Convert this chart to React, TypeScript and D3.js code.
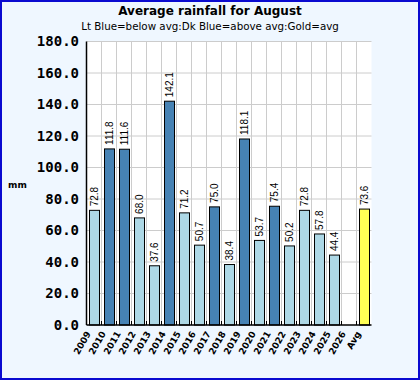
import React from "react";
import * as d3 from "d3";

const categories = ["2009","2010","2011","2012","2013","2014","2015","2016","2017","2018","2019","2020","2021","2022","2023","2024","2025","2026","Avg"];
const rainfall: (number | null)[] = [72.8,111.8,111.6,68.0,37.6,142.1,71.2,50.7,75.0,38.4,118.1,53.7,75.4,50.2,72.8,57.8,44.4,null,73.6];
const avgValue = 73.6;
const yTicks = [0,20,40,60,80,100,120,140,160,180];
const title = "Average rainfall for August";
const subtitle = "Lt Blue=below avg:Dk Blue=above avg:Gold=avg";
const yTitle = "mm";

const W = 420, H = 380;
const left = 86.5, right = 371.5, top = 41.5, bottom = 325;

export default function App() {
  const x = d3.scaleBand<string>().domain(categories).range([left, right]).padding(0);
  const y = d3.scaleLinear().domain([0, 180]).range([bottom, top]);
  const bw = x.bandwidth();
  const fmt = d3.format(".1f");
  const colorOf = (c: string, v: number) =>
    c === "Avg" ? "#ffff55" : v > avgValue ? "#4682b4" : "#add8e6";

  return (
    <svg width={W} height={H} style={{ position: "absolute", left: 0, top: 0 }}>
      <rect x={1} y={1} width={W - 2} height={H - 2} fill="#eff7ff" stroke="#0a0ad0" strokeWidth={2} />
      <text x={210} y={15} textAnchor="middle" fontFamily="DejaVu Sans" fontWeight="bold" fontSize={12}>{title}</text>
      <text x={210} y={30} textAnchor="middle" fontFamily="DejaVu Sans" fontSize={10.3}>{subtitle}</text>
      <rect x={left} y={top} width={right - left} height={bottom - top} fill="#ffffff" />
      {yTicks.filter(t => t > 0).map(t => (
        <line key={"h" + t} x1={left} x2={right} y1={y(t)} y2={y(t)} stroke="#cccccc" strokeWidth={1} />
      ))}
      {categories.slice(1).map(c => (
        <line key={"v" + c} x1={x(c)!} x2={x(c)!} y1={top} y2={bottom} stroke="#cccccc" strokeWidth={1} />
      ))}
      {categories.map((c, i) => {
        const v = rainfall[i];
        if (v == null) return null;
        const bx = Math.round(x(c)! + bw / 6) + 0.5;
        const by = y(v);
        return (
          <g key={"b" + c}>
            <rect x={bx} y={by} width={Math.round(bw * 2 / 3)} height={bottom - by} fill={colorOf(c, v)} stroke="#000" strokeWidth={1} />
            <text transform={`translate(${x(c)! + bw / 2 + 3.5},${by - 4}) rotate(-90)`} textAnchor="start"
              fontFamily="Liberation Sans" fontSize={10}>{fmt(v)}</text>
          </g>
        );
      })}
      {categories.slice(1).map(c => (
        <line key={"t" + c} x1={x(c)!} x2={x(c)!} y1={bottom - 4} y2={bottom} stroke="#000" strokeWidth={1} />
      ))}
      <line x1={left} x2={right} y1={bottom} y2={bottom} stroke="#000" strokeWidth={1.5} />
      <line x1={left} x2={left} y1={top} y2={bottom} stroke="#000" strokeWidth={1.5} />
      {yTicks.map(t => (
        <text key={"yl" + t} x={79} y={y(t)} dy="0.35em" textAnchor="end" fontFamily="DejaVu Sans Mono" fontWeight="bold" fontSize={14}>{fmt(t)}</text>
      ))}
      <text x={8} y={188} fontFamily="DejaVu Sans" fontWeight="bold" fontSize={9}>{yTitle}</text>
      {categories.map(c => (
        <text key={"xl" + c} transform={`translate(${x(c)! + 2},${332}) rotate(-60)`} textAnchor="end" dy="0.35em"
          fontFamily="DejaVu Sans" fontWeight="bold" fontSize={9}>{c}</text>
      ))}
    </svg>
  );
}
